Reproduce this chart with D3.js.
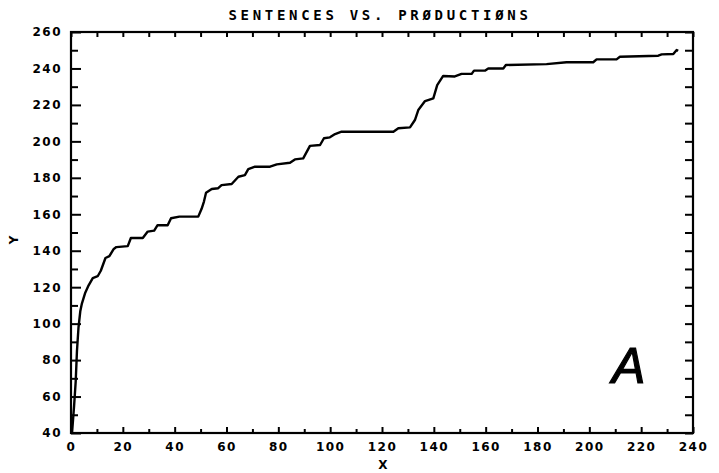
<!DOCTYPE html>
<html>
<head>
<meta charset="utf-8">
<script src="https://cdn.jsdelivr.net/npm/d3@7"></script>
<style>
  body { margin: 0; background: #fff; }
  svg { display: block; }
  .lbl text { font-family: "DejaVu Sans", sans-serif; font-weight: bold; font-size: 12px; letter-spacing: 1.5px; fill: #000; }
  .tk line { stroke: #000; stroke-width: 2; }
</style>
</head>
<body>
<svg id="chart" width="719" height="473"></svg>
<script>
// productions (x) vs sentences (y)
const xVals = [0.4, 1.2, 1.8, 2.3, 2.9, 3.6, 4.2, 5.5, 6.8, 8.4, 10.3, 11.5, 13.3, 14.8, 16.5, 17.5,
  21.9, 23.1, 27.7, 29.6, 32.1, 33.4, 37.3, 38.6, 41.8, 49.1, 50.4, 51.3, 52.1, 54.3, 56.8, 58.1,
  62, 64.6, 67.1, 68.4, 71, 76.8, 79.4, 84.5, 86.4, 89.6, 92.2, 96.1, 97.6, 99.9, 101.9, 104.4,
  124.4, 126.3, 130.8, 132.7, 134, 136.6, 139.8, 141.3, 143.6, 148.1, 150.7, 154.6, 155.5, 159.7,
  161, 166.8, 167.8, 183.5, 191.2, 201.5, 202.8, 210.5, 211.8, 226.6, 227.9, 232.4, 233.7, 234.3];
const yVals = [40, 55, 68, 85, 98, 107, 111, 117, 121, 125, 126, 129, 136, 137, 141, 142,
  142.5, 147, 147, 150.5, 151, 154, 154, 157.8, 158.7, 158.7, 163, 167, 171.8, 173.9, 174.3, 176,
  176.6, 180.6, 181.5, 184.8, 186.1, 186.1, 187.4, 188.3, 190.1, 190.7, 197.5, 198, 201.7, 202.2, 204, 205.3,
  205.3, 207.2, 207.7, 211.7, 217.2, 222.1, 223.6, 230.9, 235.9, 235.6, 237, 237, 238.8, 238.8,
  240, 240, 241.9, 242.4, 243.4, 243.4, 245, 245, 246.4, 247, 247.7, 247.9, 250.1, 249.7];

const xTicks = d3.range(0, 241, 20);
const xMinor = d3.range(10, 240, 20);
const yTicks = d3.range(40, 261, 20);
const yMinor = d3.range(50, 260, 20);

const title = "SENTENCES VS. PRØDUCTIØNS";

const mLeft = 71, mRight = 693, mTop = 32, mBottom = 433;

const svg = d3.select('#chart');

var x = d3.scaleLinear().domain([0, 240]).range([mLeft, mRight]);
var y = d3.scaleLinear().domain([40, 260]).range([mBottom, mTop]);

// left axis: labelled majors + shorter minors, ticks point inward
svg.append('g').attr('class', 'lbl tk').attr('transform', 'translate(' + mLeft + ',0)')
  .call(d3.axisLeft(y).tickValues(yTicks).tickSizeInner(-10).tickSizeOuter(0).tickPadding(9));
svg.append('g').attr('class', 'tk').attr('transform', 'translate(' + mLeft + ',0)')
  .call(d3.axisLeft(y).tickValues(yMinor).tickSize(-7).tickFormat(''));

// right axis
svg.append('g').attr('class', 'tk').attr('transform', 'translate(' + mRight + ',0)')
  .call(d3.axisRight(y).tickValues(yTicks.concat(yMinor)).tickSize(-8).tickFormat(''));

// bottom axis
svg.append('g').attr('class', 'lbl tk xax').attr('transform', 'translate(0,' + mBottom + ')')
  .call(d3.axisBottom(x).tickValues(xTicks).tickSizeInner(-6).tickSizeOuter(0).tickPadding(9));
svg.append('g').attr('class', 'tk').attr('transform', 'translate(0,' + mBottom + ')')
  .call(d3.axisBottom(x).tickValues(xMinor).tickSize(-4).tickFormat(''));

// top axis
svg.append('g').attr('class', 'tk').attr('transform', 'translate(0,' + mTop + ')')
  .call(d3.axisTop(x).tickValues(xTicks.concat(xMinor)).tickSize(-5).tickFormat(''));

svg.selectAll('.domain').remove();

// frame
svg.append('rect').attr('x', mLeft).attr('y', mTop)
  .attr('width', mRight - mLeft).attr('height', mBottom - mTop)
  .attr('fill', 'none').attr('stroke', '#000').attr('stroke-width', 2.2);

// curve
var line = d3.line().x(d => x(d[0])).y(d => y(d[1]));
svg.append('path').datum(d3.zip(xVals, yVals))
  .attr('d', line)
  .attr('fill', 'none').attr('stroke', '#000').attr('stroke-width', 2.4)
  .attr('stroke-linejoin', 'round');

// title and axis names
svg.append('text').attr('x', 380).attr('y', 20).attr('text-anchor', 'middle')
  .style('font-family', '"DejaVu Sans Mono", monospace').style('font-size', '14px')
  .style('font-weight', 'bold').style('letter-spacing', '3.7px')
  .text(title);

svg.append('text').attr('x', 383).attr('y', 469).attr('text-anchor', 'middle')
  .style('font-family', '"DejaVu Sans", sans-serif').style('font-size', '12px').style('font-weight', 'bold')
  .text('X');

svg.append('text').attr('transform', 'translate(18,240) rotate(-90)').attr('text-anchor', 'middle')
  .style('font-family', '"DejaVu Sans", sans-serif').style('font-size', '12px').style('font-weight', 'bold')
  .text('Y');

svg.append('text').attr('x', 612).attr('y', 383)
  .style('font-family', '"Liberation Sans", sans-serif').style('font-size', '50px')
  .style('font-style', 'italic')
  .attr('stroke', '#000').attr('stroke-width', 1.2)
  .text('A');
</script>
</body>
</html>
